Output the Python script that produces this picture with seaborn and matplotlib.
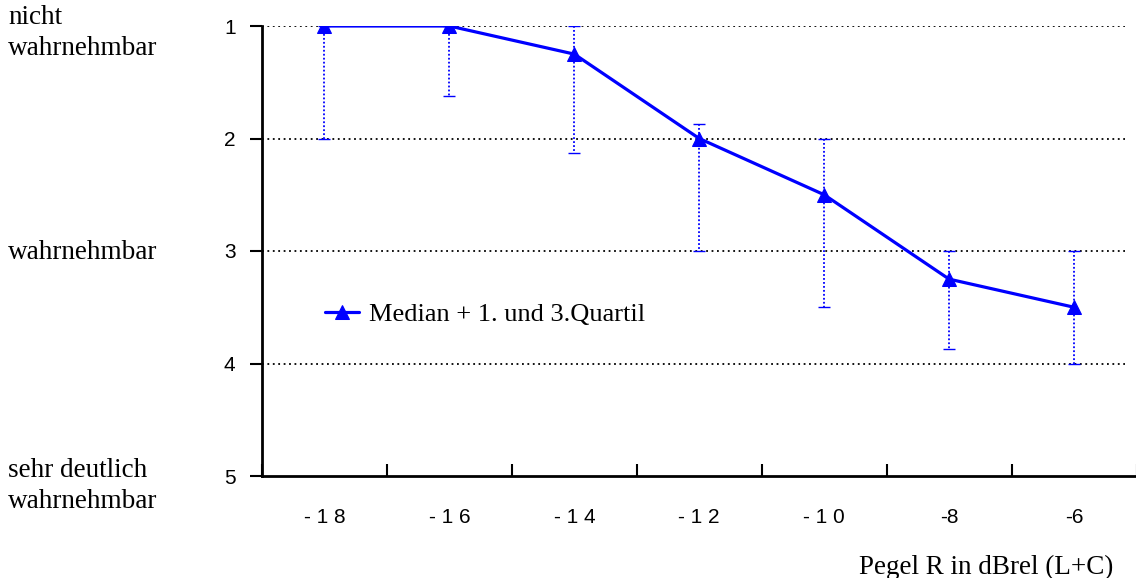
import matplotlib
matplotlib.use("Agg")
import matplotlib.pyplot as plt
import numpy as np
import pandas as pd
import seaborn as sns

# Level steps (dBrel) and the drawn tick texts
levels = [-18, -16, -14, -12, -10, -8, -6]
level_labels = ["- 1 8", "- 1 6", "- 1 4", "- 1 2", "- 1 0", "-8", "-6"]

# Rating statistics per level (1 = not perceptible, 5 = very clearly perceptible)
median = [1.0, 1.0, 1.25, 2.0, 2.5, 3.25, 3.5]
q1 = [1.0, 1.0, 1.0, 1.875, 2.0, 3.0, 3.0]
q3 = [2.0, 1.625, 2.125, 3.0, 3.5, 3.875, 4.0]

rating_ticks = [1, 2, 3, 4, 5]
# verbal anchors of the scale, one entry per printed line (text, baseline in px from top)
rating_lines = [
    ("nicht", 24),
    ("wahrnehmbar", 55),
    ("wahrnehmbar", 259),
    ("sehr deutlich", 477),
    ("wahrnehmbar", 508),
]

series_label = "Median + 1. und 3.Quartil"
x_title = "Pegel R in dBrel (L+C)"

BLUE = "#0000ff"
SERIF = ["Liberation Serif", "DejaVu Serif"]
SANS = ["Liberation Sans", "DejaVu Sans"]

W, H = 1136, 578

sns.set_theme(style="white")
plt.rcParams["font.family"] = SANS
plt.rcParams["text.color"] = "black"
plt.rcParams["axes.labelcolor"] = "black"
plt.rcParams["xtick.color"] = "black"
plt.rcParams["ytick.color"] = "black"

df = pd.DataFrame({
    "pos": np.arange(len(levels)),
    "level": levels,
    "median": median,
    "q1": q1,
    "q3": q3,
})

fig = plt.figure(figsize=(W / 100, H / 100), dpi=100)
ax = fig.add_axes([262 / W, 1 - 476 / H, 874.5 / W, 450 / H])

# dotted reference lines at each rating step
for r in rating_ticks[:-1]:
    ax.axhline(r, xmin=0, xmax=0.987, color="black", lw=1.3,
               linestyle=(0, (1, 2)), zorder=1)

# quartile ranges as dotted whiskers
eb = ax.errorbar(df["pos"], df["median"],
                 yerr=[df["median"] - df["q1"], df["q3"] - df["median"]],
                 fmt="none", ecolor=BLUE, elinewidth=1.3, capsize=4,
                 capthick=1.0, zorder=2)
for col in eb[2]:
    col.set_linestyle((0, (1, 1.2)))

sns.lineplot(data=df, x="pos", y="median", ax=ax, color=BLUE, lw=2.3,
             marker="^", markersize=10, markeredgecolor=BLUE,
             label=series_label, zorder=3)

ax.set_xlim(-0.5, len(levels) - 0.5)
ax.set_ylim(5, 1)

ax.set_xticks(df["pos"])
ax.set_xticks(np.arange(-0.5, len(levels), 1.0), minor=True)
ax.tick_params(axis="x", which="major", length=0, pad=23, labelsize=15)
ax.tick_params(axis="x", which="minor", direction="in", length=9,
               width=1.5, color="black", bottom=True)
ax.set_xticklabels(level_labels, fontsize=15, family=SANS, color="black")

ax.set_yticks(rating_ticks)
ax.tick_params(axis="y", direction="out", length=9, width=1.5,
               color="black", pad=10, left=True, labelsize=15)
ax.set_yticklabels([str(t) for t in rating_ticks], fontsize=15,
                   family=SANS, color="black")

ax.set_xlabel("")
ax.set_ylabel("")
for side in ("top", "right"):
    ax.spines[side].set_visible(False)
for side in ("left", "bottom"):
    ax.spines[side].set_color("black")
    ax.spines[side].set_linewidth(2)

leg = ax.legend(loc="center left", bbox_to_anchor=(0.06, 0.36), frameon=False,
                prop={"family": SERIF, "size": 19}, handlelength=1.3,
                handletextpad=0.35, borderaxespad=0)
for t in leg.get_texts():
    t.set_color("black")

for txt, base in rating_lines:
    fig.text(8 / W, 1 - base / H, txt, ha="left", va="baseline",
             fontsize=19.5, family=SERIF, color="black")

fig.text(1113 / W, 1 - 567 / H, x_title, ha="right", va="center",
         fontsize=19.5, family=SERIF, color="black")

fig.savefig("out.png", dpi=100)
